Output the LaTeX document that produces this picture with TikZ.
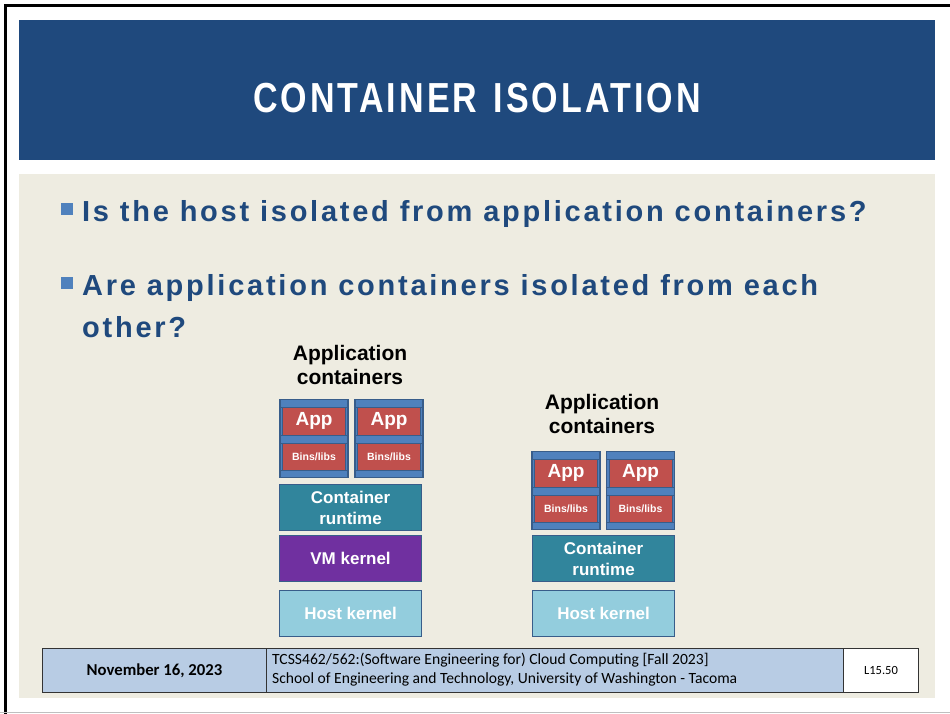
\documentclass[tikz,border=0pt]{standalone}
\usepackage{fontspec}
\setmainfont{Liberation Sans}
\newfontfamily\carlito{Carlito}
\newfontfamily\spacedfont[LetterSpace=9.5]{Liberation Sans}
\newfontfamily\titlefont[LetterSpace=9]{Liberation Sans}
\definecolor{titleblue}{HTML}{1F497D}
\definecolor{beige}{HTML}{EEECE1}
\definecolor{textblue}{HTML}{1F497D}
\definecolor{bulletblue}{HTML}{4F81BD}
\definecolor{contblue}{HTML}{4F81BD}
\definecolor{edgeblue}{HTML}{385D8A}
\definecolor{appred}{HTML}{C0504D}
\definecolor{teal}{HTML}{31859C}
\definecolor{vmpurple}{HTML}{7030A0}
\definecolor{hostblue}{HTML}{93CDDD}
\definecolor{footblue}{HTML}{B8CCE4}
\tikzset{
  box/.style={draw=edgeblue, line width=1.1pt, inner sep=0pt, text=white, align=center},
  layerbox/.style={box, minimum width=142, minimum height=46, font=\bfseries\fontsize{17}{21}\selectfont},
  outerbox/.style={box, fill=contblue, minimum width=68, minimum height=78},
  appbox/.style={box, fill=appred, draw=edgeblue, line width=0.6pt, minimum width=63, minimum height=28, font=\bfseries\fontsize{19}{20}\selectfont},
  binsbox/.style={box, fill=appred, draw=edgeblue, line width=0.6pt, minimum width=63, minimum height=27, font=\bfseries\fontsize{10.5}{12}\selectfont},
  bandline/.style={draw=edgeblue, line width=0.8pt},
  heading/.style={align=center, font=\bfseries\fontsize{21}{24}\selectfont, text=black, inner sep=0pt},
  bullettext/.style={anchor=base west, inner sep=0pt, text=textblue, font=\spacedfont\bfseries\fontsize{29}{42}\selectfont},
  bulletsq/.style={fill=bulletblue, minimum size=12, inner sep=0pt, anchor=north west},
  footcell/.style={draw=black!80, line width=1pt, inner sep=0pt, anchor=north west, minimum height=44},
}
\newcommand{\container}[3]{%
  % #1 name, #2 center x, #3 top y
  \node[outerbox, anchor=north] (#1) at (#2,#3) {};
  \draw[bandline] ([yshift=-8]#1.north west) -- ([yshift=-8]#1.north east);
  \draw[bandline] ([yshift=-36]#1.north west) -- ([yshift=-36]#1.north east);
  \draw[bandline] ([yshift=-44]#1.north west) -- ([yshift=-44]#1.north east);
  \draw[bandline] ([yshift=-71]#1.north west) -- ([yshift=-71]#1.north east);
  \node[appbox] (#1app) at ([yshift=-22]#1.north) {App};
  \node[binsbox] (#1bins) at ([yshift=-57.5]#1.north) {Bins/libs};
}
\begin{document}
\begin{tikzpicture}[x=1pt,y=-1pt]
\useasboundingbox (0,0) rectangle (950,714);
\fill[white] (0,0) rectangle (950,714);
\draw[black, line width=3pt] (5.5,714) -- (5.5,5.5) -- (950,5.5);
\draw[black!25, line width=1pt] (0,712.5) -- (950,712.5);
% title bar
\fill[titleblue] (19,20) rectangle (935,160);
\node[anchor=base, inner sep=0pt, text=white, font=\titlefont\bfseries\fontsize{42}{48}\selectfont] (title) at (477,113) {\scalebox{0.81}[1]{CONTAINER\hspace*{20pt}ISOLATION}};
% body panel
\fill[beige] (19,174) rectangle (935,698);
% bullets
\node[bulletsq] (b1) at (61,203) {};
\node[bullettext] (t1) at (82,222) {Is the host isolated from application containers?};
\node[bulletsq] (b2) at (61,277) {};
\node[bullettext] (t2) at (82,295) {Are application containers isolated from each};
\node[bullettext] (t3) at (82,337) {other?};
% left stack
\node[heading, anchor=base] (h1) at (350,384) {Application\\containers};
\container{lc1}{314}{399}
\container{lc2}{389}{399}
\node[layerbox, fill=teal, anchor=north west] (lrt) at (279,484) {Container\\runtime};
\node[layerbox, fill=vmpurple, anchor=north west] (lvm) at (279,535) {VM kernel};
\node[layerbox, fill=hostblue, anchor=north west] (lhost) at (279,590) {Host kernel};
% right stack
\node[heading, anchor=base] (h2) at (602,433) {Application\\containers};
\container{rc1}{566}{451}
\container{rc2}{640.5}{451}
\node[layerbox, fill=teal, anchor=north west] (rrt) at (532,535) {Container\\runtime};
\node[layerbox, fill=hostblue, anchor=north west] (rhost) at (532,590) {Host kernel};
% footer
\node[footcell, fill=footblue, minimum width=224] (fdate) at (42,648) {};
\node[footcell, fill=footblue, minimum width=577] (fcourse) at (266,648) {};
\node[footcell, fill=white, minimum width=75] (fnum) at (843,648) {};
\node[font=\carlito\bfseries\fontsize{16.7}{18}\selectfont, inner sep=0pt] (date) at (fdate.center) {November 16, 2023};
\node[font=\carlito\fontsize{15.6}{19}\selectfont, align=left, anchor=west, inner sep=0pt] (course) at (272,670) {TCSS462/562:(Software Engineering for) Cloud Computing [Fall 2023]\\School of Engineering and Technology, University of Washington - Tacoma};
\node[font=\carlito\fontsize{12.5}{13}\selectfont, inner sep=0pt] (num) at (fnum.center) {L15.50};
\end{tikzpicture}
\end{document}
